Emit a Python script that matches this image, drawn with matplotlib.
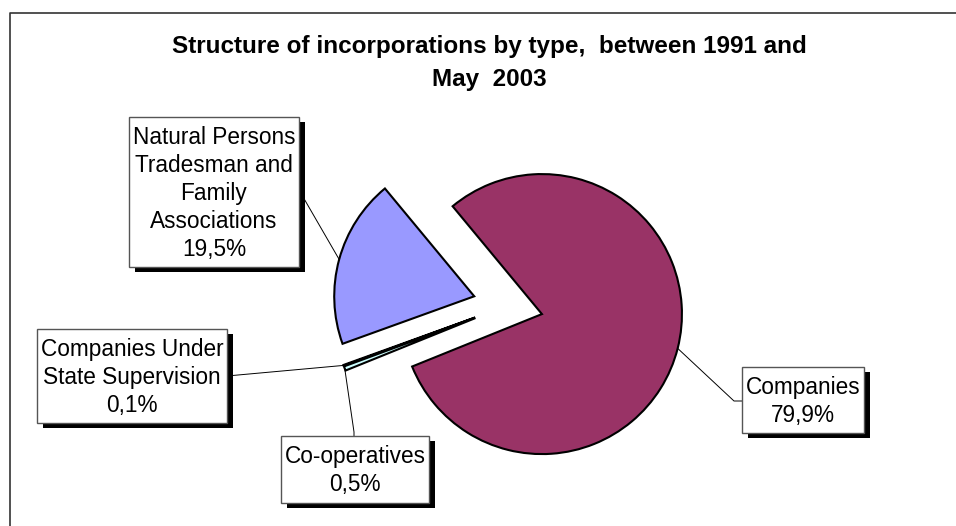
import matplotlib
matplotlib.use('Agg')
import matplotlib.pyplot as plt
from matplotlib.patches import Rectangle
import numpy as np

plt.rcParams['font.family'] = ['Liberation Sans', 'DejaVu Sans']

# data
categories = ['Companies', 'Natural Persons Tradesman and Family Associations',
              'Companies Under State Supervision', 'Co-operatives']
shares = [79.9, 19.5, 0.1, 0.5]
share_labels = ['79,9%', '19,5%', '0,1%', '0,5%']
label_lines = [['Companies'],
               ['Natural Persons', 'Tradesman and', 'Family', 'Associations'],
               ['Companies Under', 'State Supervision'],
               ['Co-operatives']]
colors = ['#993366', '#9999FF', '#FFFFCC', '#CCFFFF']
title_lines = ['Structure of incorporations by type,  between 1991 and', 'May  2003']

W, H = 956, 526
fig = plt.figure(figsize=(W / 100, H / 100), dpi=100)
ax = fig.add_axes([0, 0, 1, 1])


def sy(y):
    # pixel row (from top) -> data y
    return H - y


# explode is in data units here (pixels), every slice pulled out by 35 px
wedges, _ = ax.pie(shares, colors=colors, startangle=-158, counterclock=True,
                   center=(508, sy(305.5)), radius=140, explode=[35] * 4,
                   wedgeprops=dict(edgecolor='black', linewidth=1.5))
ax.set_xlim(0, W)
ax.set_ylim(0, H)
ax.set_aspect('equal')
ax.axis('off')

# outer frame
ax.plot([10, 10, W + 5], [-5, sy(13), sy(13)], color='#333333', lw=1.2, clip_on=False)

# title
for i, line in enumerate(title_lines):
    ax.text(489, sy(53 + 33 * i), line, ha='center', va='baseline',
            fontsize=17.5, fontweight='bold')

# label boxes (left, top, right, bottom) in pixels and leader elbow points
boxes = [(742, 367, 864, 433), (129, 117, 299, 267), (37, 329, 227, 423), (281, 436, 429, 503)]
leader_ends = [[(734, 401), (742, 401)], [(299, 190)], [(227, 376)], [(354, 432), (354, 436)]]

for w, box, ends, lines, pct in zip(wedges, boxes, leader_ends, label_lines, share_labels):
    mid = np.deg2rad((w.theta1 + w.theta2) / 2)
    ax_pt = (w.center[0] + w.r * np.cos(mid), w.center[1] + w.r * np.sin(mid))
    xs = [ax_pt[0]] + [p[0] for p in ends]
    ys = [ax_pt[1]] + [sy(p[1]) for p in ends]
    ax.plot(xs, ys, color='black', lw=0.7, zorder=3)

    x0, y0, x1, y1 = box
    ax.add_patch(Rectangle((x0 + 6, sy(y1 + 5)), x1 - x0, y1 - y0, fc='black', ec='none', zorder=4))
    ax.add_patch(Rectangle((x0, sy(y1)), x1 - x0, y1 - y0, fc='white', ec='#555555', lw=1.0, zorder=5))
    txt = lines + [pct]
    n = len(txt)
    cx = (x0 + x1) / 2
    cy = (y0 + y1) / 2
    for i, t in enumerate(txt):
        base = cy - (n - 1) / 2 * 28 + i * 28 + 8
        ax.text(cx, sy(base), t, ha='center', va='baseline', fontsize=16.3, zorder=6)

fig.savefig('out.png', dpi=100)
